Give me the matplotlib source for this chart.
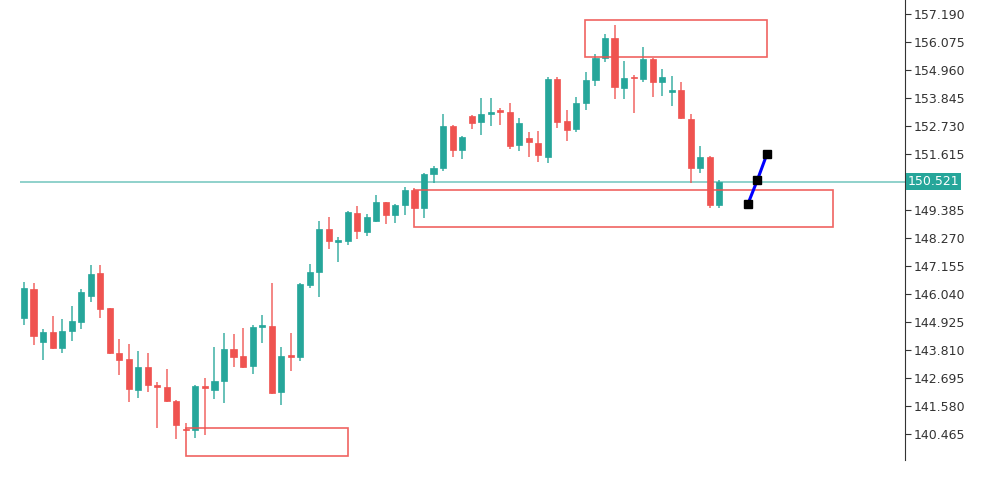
import matplotlib
matplotlib.use("Agg")
import matplotlib.pyplot as plt
from matplotlib.patches import Rectangle

# OHLC
opens = [145.08, 146.24, 144.13, 144.53, 143.89, 144.57, 144.92, 145.96, 146.88, 145.48,
         143.69, 143.45, 142.22, 143.13, 142.38, 142.34, 141.78, 140.66, 140.62, 142.38,
         142.22, 142.58, 143.85, 143.57, 143.17, 144.73, 144.77, 142.14, 143.61, 143.53,
         146.40, 146.92, 148.63, 148.11, 148.15, 149.27, 148.51, 148.95, 149.70, 149.19,
         149.58, 150.18, 149.46, 150.82, 151.06, 152.73, 151.77, 153.13, 152.89, 153.21,
         153.33, 153.29, 151.97, 152.25, 152.05, 151.50, 154.60, 152.93, 152.61, 153.65,
         154.56, 155.44, 156.23, 154.24, 154.68, 154.60, 155.40, 154.48, 154.08, 154.16,
         153.01, 151.06, 151.50, 149.58]
highs = [146.52, 146.48, 144.65, 145.16, 145.04, 145.56, 146.24, 147.20, 147.20, 145.48,
         144.25, 144.05, 143.77, 143.69, 142.54, 143.05, 141.82, 140.90, 142.42, 142.70,
         143.93, 144.49, 144.45, 144.69, 144.81, 145.20, 146.48, 143.93, 144.49, 146.48,
         147.24, 148.95, 149.11, 148.31, 149.35, 149.54, 149.23, 149.98, 149.70, 149.62,
         150.30, 150.26, 150.86, 151.13, 153.21, 152.77, 152.33, 153.17, 153.85, 153.85,
         153.45, 153.65, 153.05, 152.49, 152.53, 154.68, 154.68, 153.37, 153.88, 154.88,
         155.60, 156.39, 156.75, 155.32, 154.76, 155.88, 155.44, 155.00, 154.72, 154.48,
         153.21, 151.93, 151.54, 150.58]
lows = [144.81, 144.01, 143.41, 143.85, 143.69, 144.17, 144.65, 145.72, 145.08, 143.65,
        142.81, 141.74, 141.90, 142.14, 140.70, 141.74, 140.27, 140.60, 140.31, 140.43,
        141.86, 141.70, 143.13, 143.10, 142.85, 144.09, 142.06, 141.62, 142.97, 143.37,
        146.28, 145.92, 147.83, 147.31, 147.99, 148.23, 148.35, 148.91, 148.83, 148.87,
        149.19, 149.42, 149.07, 150.46, 150.94, 151.50, 151.42, 152.61, 152.37, 152.73,
        152.77, 151.81, 151.73, 151.50, 151.30, 151.26, 152.65, 152.13, 152.49, 153.37,
        154.32, 155.28, 153.80, 153.80, 153.25, 154.48, 153.88, 153.92, 153.53, 153.01,
        150.46, 150.86, 149.47, 149.47]
closes = [146.28, 144.37, 144.53, 143.89, 144.57, 144.96, 146.12, 146.84, 145.44, 143.69,
          143.41, 142.26, 143.13, 142.42, 142.34, 141.78, 140.82, 140.62, 142.38, 142.30,
          142.58, 143.85, 143.53, 143.13, 144.73, 144.77, 142.10, 143.57, 143.53, 146.44,
          146.92, 148.63, 148.15, 148.19, 149.31, 148.55, 149.11, 149.70, 149.19, 149.58,
          150.18, 149.46, 150.82, 151.06, 152.73, 151.77, 152.29, 152.85, 153.21, 153.29,
          153.29, 151.93, 152.85, 152.09, 151.57, 154.60, 152.89, 152.57, 153.65, 154.56,
          155.44, 156.23, 154.28, 154.64, 154.64, 155.40, 154.48, 154.68, 154.16, 153.05,
          151.06, 151.50, 149.58, 150.52]

last_price = 150.521
tick_values = [157.190, 156.075, 154.960, 153.845, 152.730, 151.615, 150.521,
               149.385, 148.270, 147.155, 146.040, 144.925, 143.810, 142.695,
               141.580, 140.465]

# zones: (start index, end index, low, high)
zones = [(58.9, 78.0, 155.48, 156.95),
         (41.0, 84.9, 148.71, 150.18),
         (17.0, 34.0, 139.59, 140.70)]

# blue projection line
proj_x = [76, 77, 78]
proj_y = [149.62, 150.58, 151.61]

GREEN = "#26a69a"
RED = "#ef5350"

fig = plt.figure(figsize=(10, 4.82), dpi=100)
ax = fig.add_axes([0.02, 22 / 482, 0.885, 460 / 482])

for i, (o, h, l, c) in enumerate(zip(opens, highs, lows, closes)):
    col = GREEN if c >= o else RED
    ax.vlines(i, l, h, color=col, linewidth=1.4, alpha=0.7, zorder=2)
    bottom = min(o, c)
    height = max(abs(c - o), 0.06)
    ax.add_patch(Rectangle((i - 0.32, bottom), 0.64, height,
                           facecolor=col, edgecolor=col, linewidth=0.5, zorder=3))

for x0, x1, lo, hi in zones:
    ax.add_patch(Rectangle((x0, lo), x1 - x0, hi - lo, facecolor="none",
                           edgecolor=RED, linewidth=1.2, alpha=0.9, zorder=4))

ax.axhline(last_price, color=GREEN, linewidth=1.2, alpha=0.6, zorder=1)

ax.plot(proj_x, proj_y, color="#0000ff", linewidth=2.2, zorder=5)
ax.plot(proj_x, proj_y, linestyle="none", marker="s", markersize=6,
        color="black", zorder=6)

ax.set_xlim(-0.42, 92.5)
ax.set_ylim(139.43, 157.75)

for s in ["top", "left", "bottom"]:
    ax.spines[s].set_visible(False)
ax.spines["right"].set_color("#333333")
ax.set_xticks([])
ax.yaxis.tick_right()
ticks = [t for t in tick_values if t != last_price]
ax.set_yticks(ticks)
ax.set_yticklabels([f"{t:.3f}" for t in ticks], fontsize=9, color="#333333")
ax.tick_params(axis="y", length=4, width=0.8, color="#333333", pad=2)

ax.text(1.003, last_price, f"{last_price:.3f}", transform=ax.get_yaxis_transform(),
        ha="left", va="center", fontsize=9, color="white",
        bbox=dict(boxstyle="square,pad=0.15", facecolor=GREEN, edgecolor="none"))

fig.savefig("out.png", dpi=100)
